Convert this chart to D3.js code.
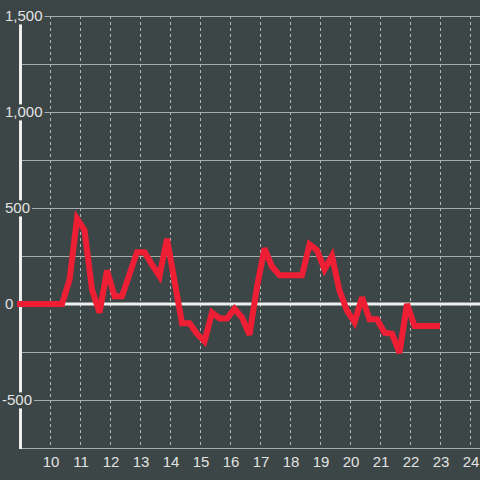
<!DOCTYPE html>
<html><head><meta charset="utf-8">
<script src="https://cdn.jsdelivr.net/npm/d3@7"></script>
<style>html,body{margin:0;padding:0;background:#3c4647;}svg{display:block;}</style>
</head><body>
<svg id="c" width="480" height="480"></svg>
<script>
const xValues = [9.0,10.4,10.65,10.9,11.15,11.4,11.65,11.9,12.15,12.4,12.65,12.9,13.15,13.4,13.65,13.9,14.15,14.4,14.65,14.9,15.15,15.4,15.65,15.9,16.15,16.4,16.65,16.9,17.15,17.4,17.65,17.9,18.15,18.4,18.65,18.9,19.15,19.4,19.65,19.9,20.15,20.4,20.65,20.9,21.15,21.4,21.65,21.9,22.15,22.4,22.65,22.9];
const yValues = [0,0,125,445,385,75,-45,175,40,40,155,270,270,205,145,340,120,-100,-100,-155,-195,-45,-75,-75,-25,-70,-160,90,290,195,150,150,150,150,310,280,180,250,70,-35,-95,35,-80,-80,-150,-155,-255,0,-115,-115,-115,-115];
const xTicks = [10,11,12,13,14,15,16,17,18,19,20,21,22,23,24];
const yMajorTicks = [-500,0,500,1000,1500];
const yMinorTicks = [-750,-250,250,750,1250];

const W = 480, H = 480;
const x = d3.scaleLinear().domain([9, 24 + 1/3]).range([20, 480]);
const y = d3.scaleLinear().domain([-750, 1500]).range([448, 16]);
const svg = d3.select('#c');
svg.append('rect').attr('width', W).attr('height', H).attr('fill', '#3c4647');

const font = '"Liberation Sans", Arial, sans-serif';
const txt = '#e2e2e2';

// vertical dashed grid
svg.append('g').selectAll('line').data(xTicks).join('line')
  .attr('x1', d => Math.round(x(d)) + 0.5).attr('x2', d => Math.round(x(d)) + 0.5)
  .attr('y1', y(1500)).attr('y2', 446)
  .attr('stroke', '#b4b8b8').attr('stroke-width', 1).attr('stroke-dasharray', '3,3');

// minor horizontal grid
svg.append('g').selectAll('line').data(yMinorTicks).join('line')
  .attr('x1', 20).attr('x2', W)
  .attr('y1', d => Math.round(y(d)) + 0.5).attr('y2', d => Math.round(y(d)) + 0.5)
  .attr('stroke', '#a8acac').attr('stroke-width', 1);

// major horizontal grid
svg.append('g').selectAll('line').data(yMajorTicks.filter(d => d !== 0)).join('line')
  .attr('x1', 20).attr('x2', W)
  .attr('y1', d => Math.round(y(d)) + 0.5).attr('y2', d => Math.round(y(d)) + 0.5)
  .attr('stroke', '#a8acac').attr('stroke-width', 1);

// zero line
svg.append('line').attr('x1', 17).attr('x2', W)
  .attr('y1', y(0)).attr('y2', y(0))
  .attr('stroke', '#eef0ee').attr('stroke-width', 3);

// left axis
svg.append('line').attr('x1', 20.5).attr('x2', 20.5)
  .attr('y1', y(1500)).attr('y2', 449)
  .attr('stroke', '#eef0ee').attr('stroke-width', 3);

// data line
const line = d3.line().x((d, i) => x(xValues[i])).y(d => y(d));
svg.append('path').datum(yValues)
  .attr('d', line)
  .attr('fill', 'none').attr('stroke', '#ee1f35').attr('stroke-width', 6)
  .attr('stroke-linejoin', 'miter').attr('stroke-miterlimit', 3).attr('stroke-linecap', 'square');

// y labels with background boxes
const yl = svg.append('g');
yMajorTicks.forEach(d => {
  const g = yl.append('g');
  const t = g.append('text')
    .attr('x', d < 0 ? 2 : 5).attr('y', y(d)).attr('dy', '0.36em')
    .attr('font-family', font).attr('font-size', 15).attr('fill', txt)
    .text(d3.format(',')(d).replace('−', '-'));
  const b = t.node().getBBox();
  g.insert('rect', 'text').attr('x', b.x - 1).attr('y', b.y + 1)
    .attr('width', b.width + 3).attr('height', b.height - 1)
    .attr('fill', '#3c4647');
});

// x labels
svg.append('g').selectAll('text').data(xTicks).join('text')
  .attr('x', d => x(d) + 1).attr('y', 467)
  .attr('text-anchor', 'middle')
  .attr('font-family', font).attr('font-size', 15).attr('fill', txt)
  .text(d => d);
</script>
</body></html>
